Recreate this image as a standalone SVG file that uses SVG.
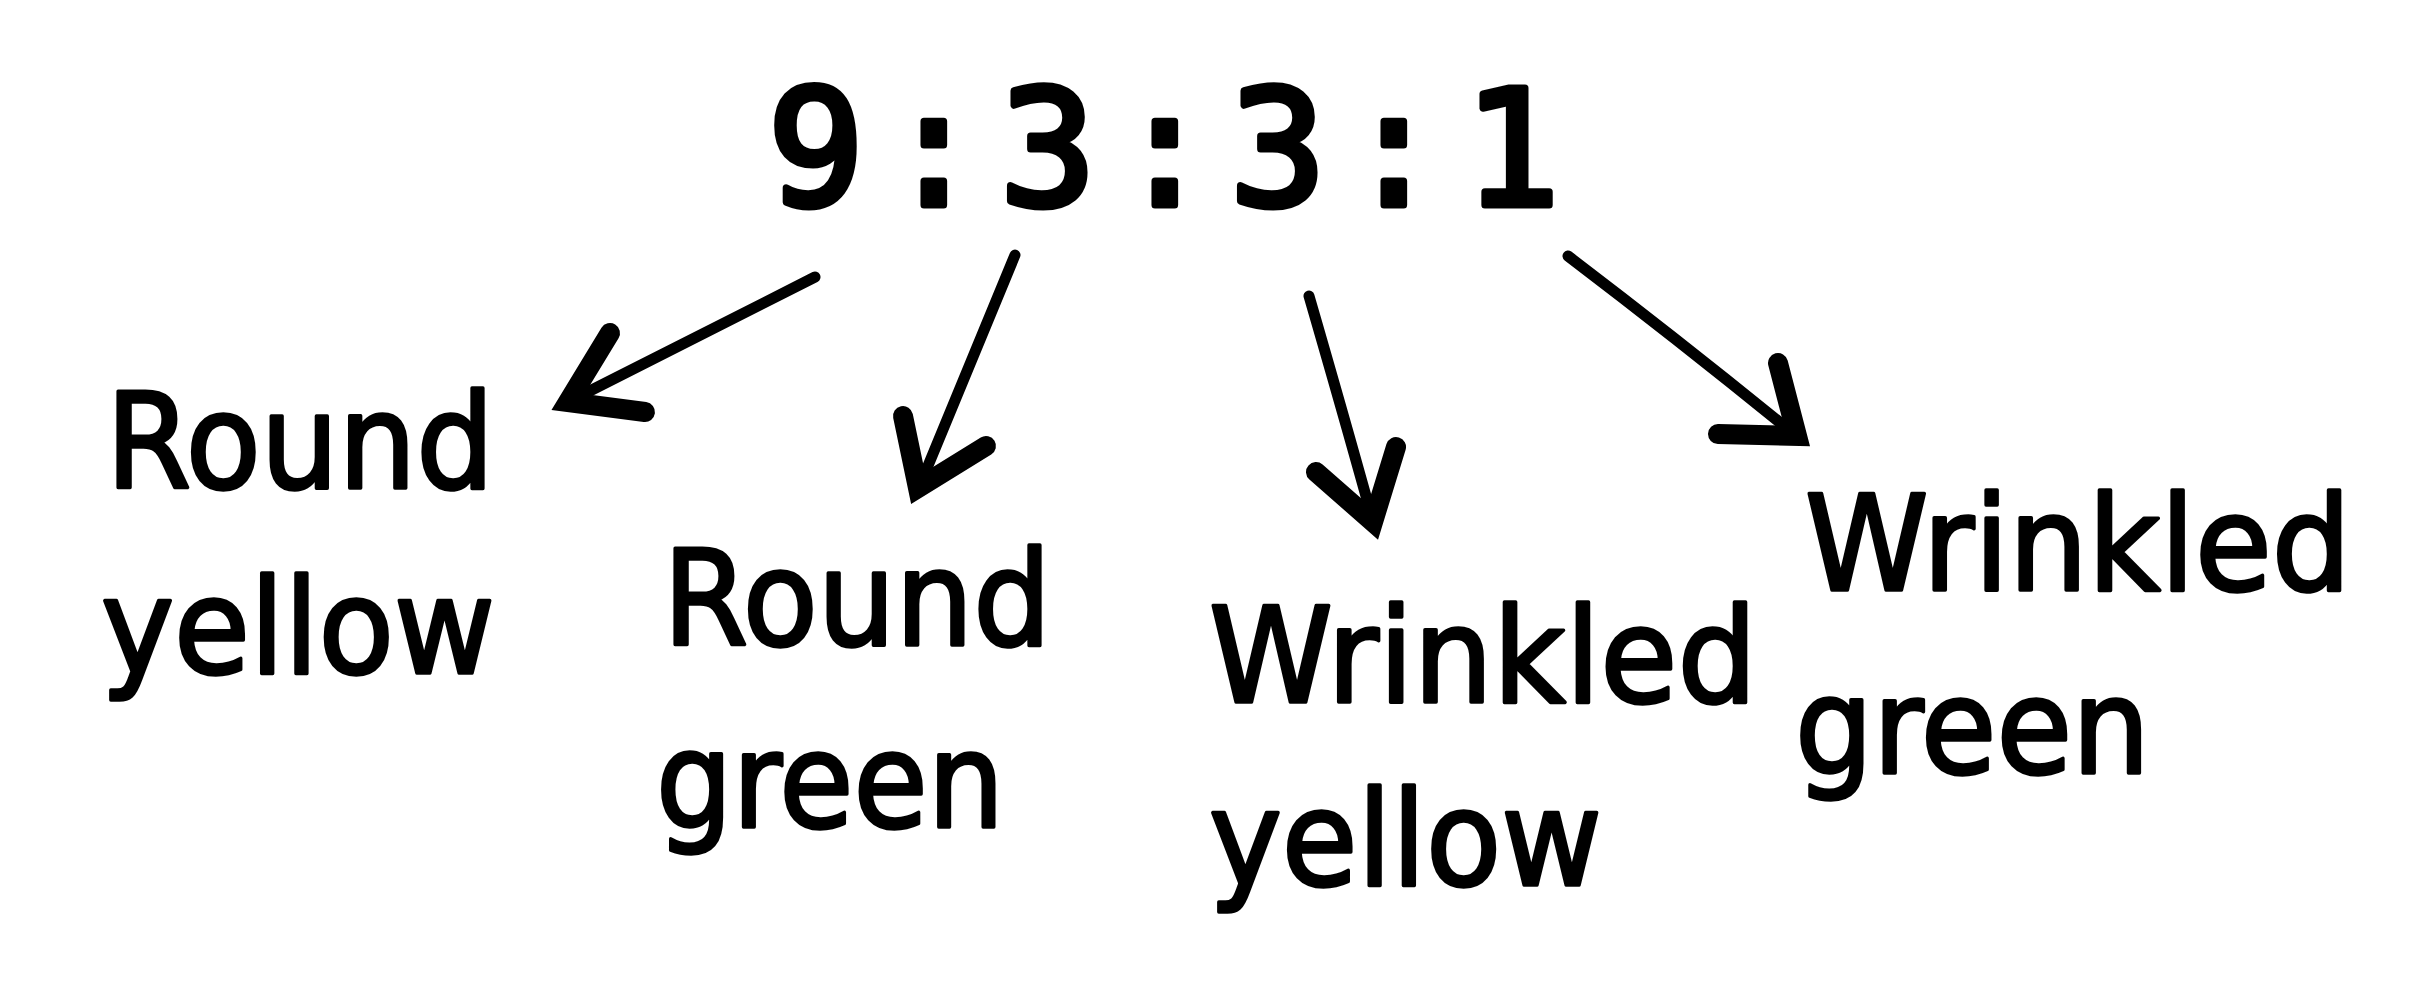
<svg xmlns="http://www.w3.org/2000/svg" width="2430" height="986" viewBox="0 0 2430 986">
<style>
.ratio{font-family:"DejaVu Sans Mono","Liberation Mono",monospace;font-size:160px;fill:#000;stroke:#000;stroke-width:7;stroke-linejoin:round;text-anchor:middle}
.lbl{font-family:"DejaVu Sans","Noto Sans",sans-serif;font-size:131px;fill:#000;stroke:#000;stroke-width:3.5;stroke-linejoin:round}
.shaft{fill:none;stroke:#000;stroke-width:11;stroke-linecap:round}
.head{fill:none;stroke:#000;stroke-width:20;stroke-linecap:round;stroke-linejoin:miter;stroke-miterlimit:6}
</style>
<rect width="2430" height="986" fill="#fff"/>
<g id="ratio">
<text class="ratio" x="816 934 1048 1165 1278 1394 1512" y="205">9:3:3:1</text>
</g>
<g id="connectors">
<path class="shaft" d="M815 277 Q690 340 566 403"/>
<path class="head" d="M610 333 L568 402 L645 412"/>
<path class="shaft" d="M1015 255 Q965 375 918 490"/>
<path class="head" d="M903 416 L918 488 L986 446"/>
<path class="shaft" d="M1309 296 Q1345 420 1374 525"/>
<path class="head" d="M1316 472 L1373 522 L1396 447"/>
<path class="shaft" d="M1568 256 Q1685 345 1799 438"/>
<path class="head" d="M1778 363 L1797 436 L1718 434"/>
</g>
<g id="round-yellow">
<text class="lbl" x="106" y="488" textLength="388" lengthAdjust="spacingAndGlyphs">Round</text>
<text class="lbl" x="101" y="673" textLength="394" lengthAdjust="spacingAndGlyphs">yellow</text>
</g>
<g id="round-green">
<text class="lbl" x="663" y="645" textLength="388" lengthAdjust="spacingAndGlyphs">Round</text>
<text class="lbl" x="656" y="827" textLength="348" lengthAdjust="spacingAndGlyphs">green</text>
</g>
<g id="wrinkled-yellow">
<text class="lbl" x="1209" y="702" textLength="548" lengthAdjust="spacingAndGlyphs">Wrinkled</text>
<text class="lbl" x="1209" y="885" textLength="393" lengthAdjust="spacingAndGlyphs">yellow</text>
</g>
<g id="wrinkled-green">
<text class="lbl" x="1805" y="590" textLength="546" lengthAdjust="spacingAndGlyphs">Wrinkled</text>
<text class="lbl" x="1795" y="773" textLength="355" lengthAdjust="spacingAndGlyphs">green</text>
</g>
</svg>
